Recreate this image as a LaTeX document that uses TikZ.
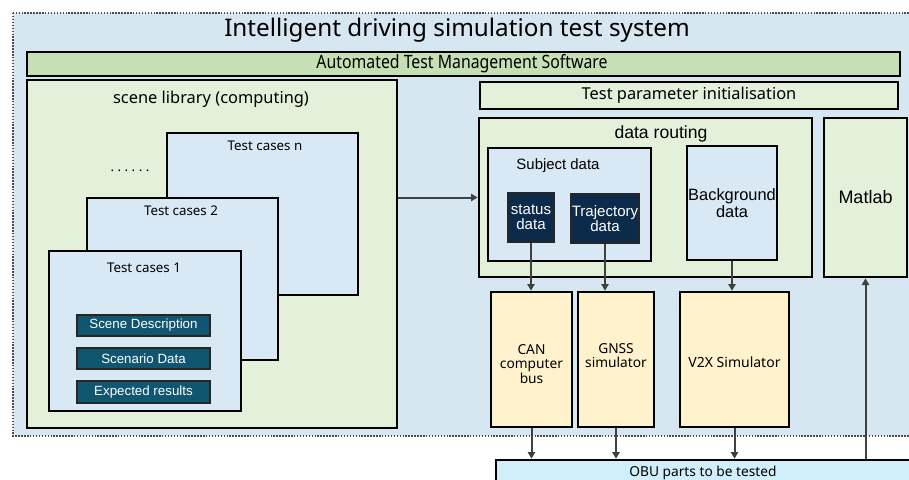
\documentclass[tikz,border=0pt]{standalone}
\usepackage{fontspec}
\setmainfont{Noto Sans}
\newfontfamily\arial{Liberation Sans}
\newfontfamily\cond[FakeStretch=0.86]{Noto Sans}
\usetikzlibrary{fit,arrows.meta}
\definecolor{bgblue}{RGB}{215,231,242}
\definecolor{tcblue}{RGB}{216,232,245}
\definecolor{gbar}{RGB}{197,224,180}
\definecolor{lgreen}{RGB}{227,240,218}
\definecolor{teal}{RGB}{16,86,112}
\definecolor{navy}{RGB}{12,42,74}
\definecolor{ylw}{RGB}{255,242,204}
\definecolor{cyanl}{RGB}{208,239,250}
\definecolor{arr}{RGB}{64,64,64}
\tikzset{
  box/.style={draw=black, line width=2pt, inner sep=0pt},
  darkbox/.style={box, draw=black!85, line width=1.7pt},
  lbl/.style={inner sep=0pt, align=center},
  wlbl/.style={lbl, text=white},
  conn/.style={draw=arr, line width=1.5pt, -{Triangle[length=5pt,width=5.5pt]}},
}
\begin{document}
\begin{tikzpicture}[x=0.75pt,y=-0.75pt]
\useasboundingbox (0,0) rectangle (909,479);
\clip (0,0) rectangle (909,479);
% outer system
\fill[bgblue] (13,13) rectangle (915,436);
\draw[black!70, line width=1.2pt, dash pattern=on 1.1pt off 1.1pt] (13,13) rectangle (915,436);
\node[lbl, font=\fontsize{18.2}{20}\selectfont] (title) at (457,30) {Intelligent driving simulation test system};
% management bar
\node[box, fill=gbar, fit={(27,52)(900,76)}] (atms) {};
\node[lbl, font=\cond\fontsize{13.8}{15}\selectfont] (atmsl) at (462,64) {Automated Test Management Software};
% scene library
\node[box, fill=lgreen, fit={(27,80)(397,428)}] (sl) {};
\node[lbl, font=\fontsize{12.3}{14}\selectfont] (sllbl) at (211,99) {scene library (computing)};
\node[box, fill=tcblue, fit={(167,133)(358,295)}] (tcn) {};
\node[lbl, font=\fontsize{10}{12}\selectfont] (tcnl) at (265,146) {Test cases n};
\node[lbl, font=\bfseries\fontsize{10}{12}\selectfont] (dots) at (130,171) {.\hspace{2.6pt}.\hspace{2.6pt}.\hspace{2.6pt}.\hspace{2.6pt}.\hspace{2.6pt}.};
\node[box, fill=tcblue, fit={(87,198)(278,360)}] (tc2) {};
\node[lbl, font=\fontsize{10}{12}\selectfont] (tc2l) at (181,211) {Test cases 2};
\node[box, fill=tcblue, fit={(49,251)(241,411)}] (tc1) {};
\node[lbl, font=\fontsize{10}{12}\selectfont] (tc1l) at (144,268) {Test cases 1};
\node[darkbox, fill=teal, fit={(77,315)(210,336)}] (sd) {};
\node[wlbl, font=\arial\fontsize{10}{11}\selectfont] (sdl) at (143.5,325.5) {Scene Description};
\node[darkbox, fill=teal, fit={(77,348)(210,369)}] (scd) {};
\node[wlbl, font=\arial\fontsize{10}{11}\selectfont] (scdl) at (143.5,358.5) {Scenario Data};
\node[darkbox, fill=teal, fit={(77,381)(210,403)}] (er) {};
\node[wlbl, font=\arial\fontsize{10}{11}\selectfont] (erl) at (143.5,392) {Expected results};
% test parameter
\node[box, fill=lgreen, fit={(480,82)(898,109)}] (tpi) {};
\node[lbl, font=\fontsize{12.3}{14}\selectfont] (tpil) at (689,95.5) {Test parameter initialisation};
% data routing
\node[box, fill=lgreen, fit={(479,118)(812,277)}] (dr) {};
\node[lbl, font=\arial\fontsize{13.2}{15}\selectfont] (drl) at (661,134) {data routing};
\node[box, fill=tcblue, fit={(488,148)(651,261)}] (subj) {};
\node[lbl, font=\arial\fontsize{11.2}{13}\selectfont] (subjl) at (558,166) {Subject data};
\node[darkbox, fill=navy, fit={(508,193)(554,242)}] (st) {};
\node[wlbl, font=\arial\fontsize{11.3}{13}\selectfont] (stl) at (531,217.5) {status\\[-1.5pt]data};
\node[darkbox, fill=navy, fit={(571,194)(639,243)}] (tr) {};
\node[wlbl, font=\arial\fontsize{11.3}{13}\selectfont] (trl) at (605,218.5) {Trajectory\\[-1.5pt]data};
\node[box, fill=tcblue, fit={(687,146)(777,260)}] (bgd) {};
\node[lbl, font=\arial\fontsize{12.3}{14}\selectfont] (bgdl) at (732,203) {Background\\[-1pt]data};
\node[box, fill=lgreen, fit={(824,118)(907,277)}] (ml) {};
\node[lbl, font=\arial\fontsize{13.5}{15}\selectfont] (mll) at (865.5,197) {Matlab};
% simulators
\node[box, fill=ylw, fit={(491,292)(572,427)}] (can) {};
\node[lbl, font=\fontsize{10.3}{12}\selectfont] (canl) at (531.5,364) {CAN\\[-1pt]computer\\[-1pt]bus};
\node[box, fill=ylw, fit={(578,292)(654,427)}] (gnss) {};
\node[lbl, font=\fontsize{10.3}{12}\selectfont] (gnssl) at (616,355.5) {GNSS\\[-1pt]simulator};
\node[box, fill=ylw, fit={(680,292)(789,427)}] (v2x) {};
\node[lbl, font=\fontsize{10.5}{12.5}\selectfont] (v2xl) at (734.5,362) {V2X Simulator};
% OBU
\node[box, fill=cyanl, fit={(496,460)(912,495)}] (obu) {};
\node[lbl, font=\fontsize{10.3}{12}\selectfont] (obul) at (703,473) {OBU parts to be tested};
% connectors
\draw[conn] (dr.west -| sl.east) -- (dr.west);
\draw[conn] (st.south) -- (st.south |- can.north);
\draw[conn] (tr.south) -- (tr.south |- gnss.north);
\draw[conn] (bgd.south) -- (bgd.south |- v2x.north);
\draw[conn] (can.south) -- (can.south |- obu.north);
\draw[conn] (gnss.south) -- (gnss.south |- obu.north);
\draw[conn] (v2x.south) -- (v2x.south |- obu.north);
\draw[conn] (obu.north -| ml.south) -- (ml.south);
\end{tikzpicture}
\end{document}
